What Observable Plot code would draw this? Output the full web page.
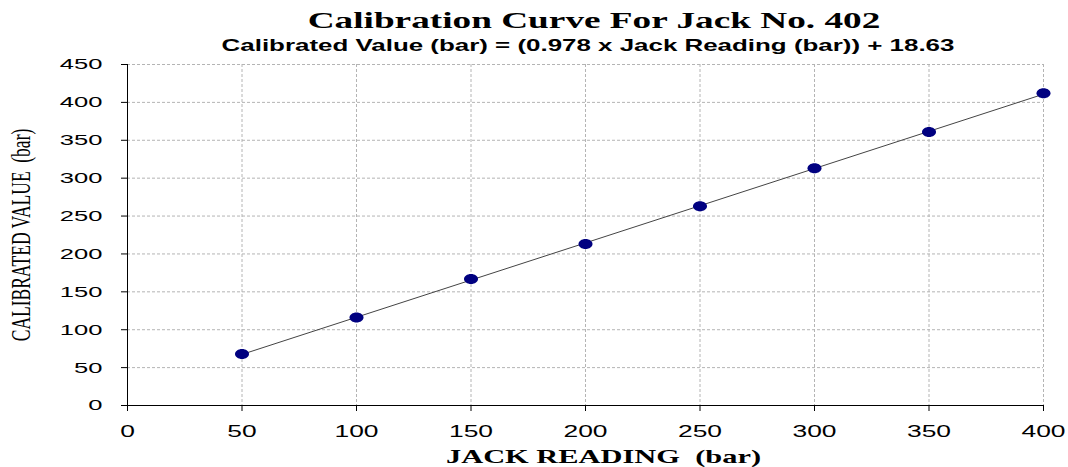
<!DOCTYPE html>
<html><head><meta charset="utf-8">
<script src="https://cdn.jsdelivr.net/npm/d3@7"></script>
<script src="https://cdn.jsdelivr.net/npm/@observablehq/plot@0.6"></script>
<style>
body{margin:0;background:#fff;width:1068px;height:467px;overflow:hidden;position:relative}
.hd{position:absolute;white-space:nowrap;}
#title{left:594px;top:8px;font:bold 23px "Liberation Serif",serif;color:#000;transform:translateX(-50%) scaleX(1.62)}
#sub{left:588px;top:36px;font:bold 16.5px "Liberation Sans",Arial,sans-serif;color:#000;transform:translateX(-50%) scaleX(1.57)}
#chart{position:absolute;left:0;top:54px}
</style></head>
<body>
<div id="title" class="hd">Calibration Curve For Jack No. 402</div>
<div id="sub" class="hd">Calibrated Value (bar) = (0.978 x Jack Reading (bar)) + 18.63</div>
<div id="chart"></div>
<script>
const jackReading = [50, 100, 150, 200, 250, 300, 350, 400];
const calibratedValue = [68, 116, 167, 213, 263, 313, 361, 412];
const xTicks = [0, 50, 100, 150, 200, 250, 300, 350, 400];
const yTicks = [0, 50, 100, 150, 200, 250, 300, 350, 400, 450];
const xLabel = "JACK READING  (bar)";
const yLabel = "CALIBRATED VALUE  (bar)";

const data = jackReading.map((x, i) => ({x, y: calibratedValue[i]}));

const ellipse = {
  draw(ctx) {
    const rx = 7, ry = 5, k = 0.5523;
    ctx.moveTo(rx, 0);
    ctx.bezierCurveTo(rx, ry * k, rx * k, ry, 0, ry);
    ctx.bezierCurveTo(-rx * k, ry, -rx, ry * k, -rx, 0);
    ctx.bezierCurveTo(-rx, -ry * k, -rx * k, -ry, 0, -ry);
    ctx.bezierCurveTo(rx * k, -ry, rx, -ry * k, rx, 0);
    ctx.closePath();
  }
};

const chart = Plot.plot({
  width: 1068,
  height: 413,
  marginTop: 10,
  marginBottom: 62,
  marginLeft: 127,
  marginRight: 25,
  style: {fontFamily: "'Liberation Sans', Arial, sans-serif", fontSize: "16px", color: "#000", background: "#fff"},
  x: {domain: [0, 400]},
  y: {domain: [0, 450]},
  marks: [
    Plot.gridX(xTicks.filter(d => d > 0), {stroke: "#b4b4b4", strokeOpacity: 1, strokeDasharray: "3,2"}),
    Plot.gridY(yTicks.filter(d => d > 0), {stroke: "#b4b4b4", strokeOpacity: 1, strokeDasharray: "3,2"}),
    Plot.axisX({ticks: xTicks, tickSize: 6, tickPadding: 14, label: null, fontSize: 16}),
    Plot.axisY({ticks: yTicks, tickSize: 6, tickPadding: 19, label: null, fontSize: 15.5}),
    Plot.ruleY([0], {stroke: "#000"}),
    Plot.ruleX([0], {stroke: "#000"}),
    Plot.linearRegressionY(data, {x: "x", y: "y", stroke: "#444", strokeWidth: 1, ci: 0}),
    Plot.dot(data, {x: "x", y: "y", symbol: ellipse, fill: "#000080", stroke: "none", r: 5}),
    Plot.text([xLabel], {frameAnchor: "bottom", lineAnchor: "middle", textAnchor: "middle", dy: 52, dx: 18, fontSize: 18, fontWeight: "bold", fontFamily: "'Liberation Serif', serif", className: "xlab"}),
    Plot.text([yLabel], {frameAnchor: "left", textAnchor: "middle", lineAnchor: "middle", dx: -106, rotate: -90, fontSize: 17.5, fontFamily: "'Liberation Serif', serif", className: "ylab"})
  ]
});
document.getElementById("chart").appendChild(chart);

const hasClass = (t, c) => {
  const g = t.closest("g");
  return g && (g.getAttribute("class") || "").includes(c);
};
chart.querySelectorAll("text").forEach(t => {
  const tr = t.getAttribute("transform") || "";
  if (hasClass(t, "ylab")) {
    t.setAttribute("transform", tr + " scale(1,1.6)");
  } else if (hasClass(t, "xlab")) {
    t.setAttribute("transform", tr + " scale(1.69,1)");
  } else {
    t.setAttribute("transform", tr + " scale(1.65,1)");
  }
});
</script>
</body></html>
